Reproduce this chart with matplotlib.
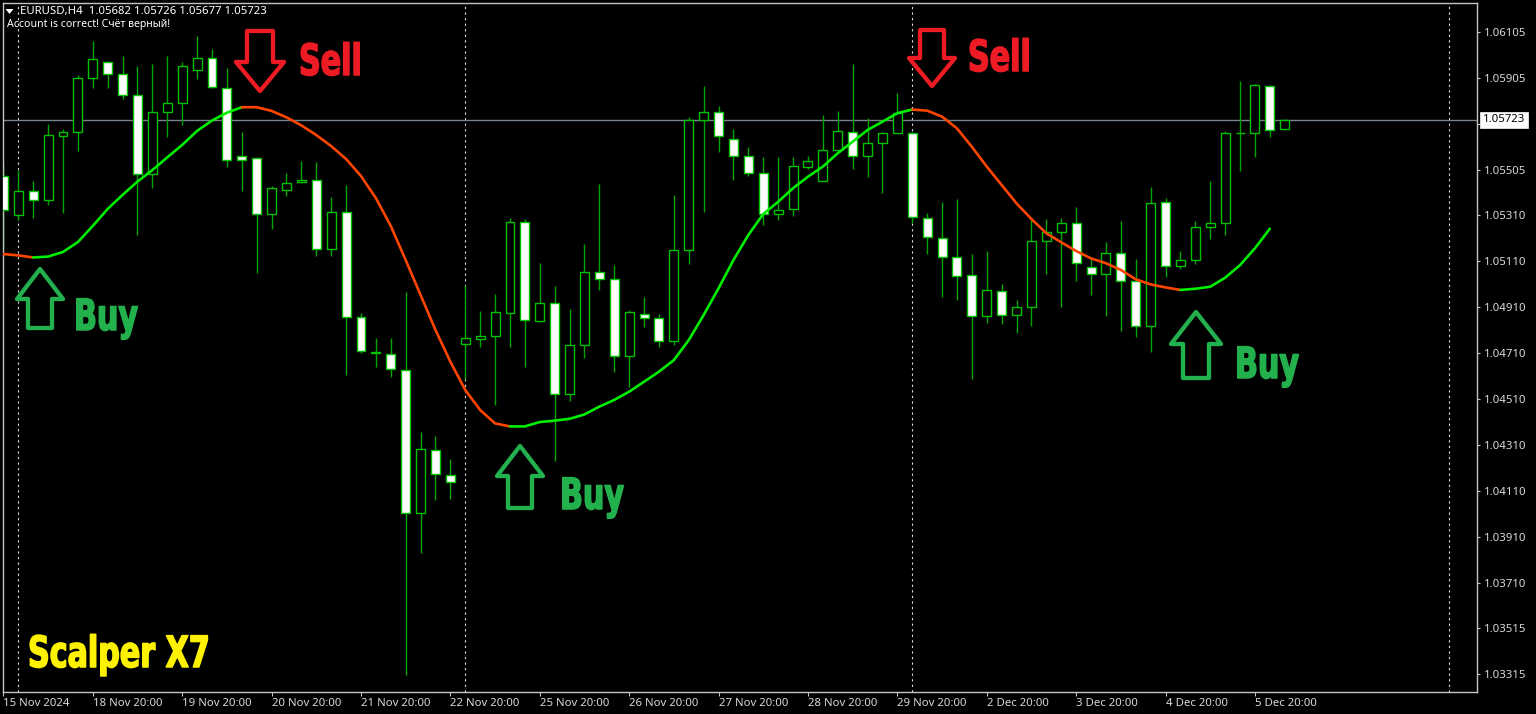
"""
EURUSD H4 chart with the Scalper X7 trend line, MT4 look
"""

import numpy as np
import matplotlib
matplotlib.use('Agg')
import matplotlib.pyplot as plt
import matplotlib.patheffects as pe
from matplotlib.patches import Polygon
from matplotlib.transforms import Affine2D

# Prices in points (1 point = 0.00001)
opens = [105479, 105311, 105416, 105373, 105655, 105672, 105903, 105975, 105922, 105831,
         105488, 105759, 105798, 105940, 105992, 105862, 105564, 105557, 105314, 105420,
         105451, 105462, 105162, 105323, 104865, 104716, 104707, 104637, 104015, 104288,
         104180, 104748, 104771, 104784, 104885, 105278, 104850, 104926, 104533, 104743,
         105063, 105031, 104698, 104881, 104861, 104763, 105156, 105721, 105756, 105641,
         105565, 105492, 105314, 105334, 105520, 105459, 105591, 105670, 105565, 105623,
         105667, 105667, 105298, 105208, 105128, 105050, 104869, 104978, 104874, 104910,
         105197, 105234, 105276, 105084, 105055, 105144, 105021, 104829, 105367, 105087,
         105115, 105257, 105274, 105665, 105667, 105870, 105682]
highs = [105540, 105505, 105457, 105705, 105683, 105920, 106066, 105979, 106001, 105957,
         105966, 106001, 105975, 106088, 106031, 105948, 105670, 105562, 105436, 105492,
         105544, 105540, 105388, 105440, 104885, 104774, 104776, 104976, 104368, 104349,
         104251, 105005, 104891, 104965, 105298, 105292, 105100, 105001, 104900, 105184,
         105443, 105092, 104897, 104955, 104879, 105397, 105734, 105870, 105782, 105682,
         105604, 105560, 105560, 105563, 105566, 105743, 105762, 105966, 105730, 105672,
         105840, 105672, 105317, 105365, 105378, 105140, 105153, 105008, 104940, 105302,
         105291, 105295, 105343, 105128, 105194, 105284, 105117, 105433, 105385, 105153,
         105284, 105457, 105675, 105892, 105879, 105873, 105726]
lows = [105157, 105288, 105297, 105353, 105318, 105588, 105862, 105862, 105814, 105223,
        105427, 105649, 105701, 105901, 105862, 105518, 105414, 105058, 105249, 105392,
        105449, 105131, 105131, 104614, 104710, 104650, 104607, 103310, 103841, 104071,
        104075, 104596, 104737, 104484, 104735, 104650, 104846, 104239, 104503, 104689,
        104984, 104629, 104563, 104824, 104735, 104745, 105095, 105321, 105585, 105462,
        105480, 105267, 105288, 105305, 105510, 105459, 105591, 105511, 105475, 105407,
        105667, 105275, 105139, 104952, 104940, 104597, 104839, 104835, 104798, 104827,
        105053, 104911, 105021, 104963, 104872, 104805, 104781, 104714, 105041, 105074,
        105097, 105204, 105224, 105500, 105560, 105650, 105677]
closes = [105331, 105416, 105375, 105657, 105672, 105903, 105988, 105922, 105831, 105488,
          105759, 105798, 105957, 105992, 105866, 105549, 105549, 105314, 105429, 105449,
          105462, 105162, 105323, 104868, 104719, 104712, 104639, 104015, 104291, 104184,
          104149, 104774, 104785, 104889, 105278, 104852, 104926, 104533, 104743, 105063,
          105031, 104696, 104889, 104861, 104763, 105156, 105721, 105756, 105652, 105566,
          105492, 105315, 105330, 105521, 105546, 105591, 105676, 105565, 105623, 105667,
          105754, 105299, 105214, 105128, 105046, 104869, 104982, 104874, 104910, 105198,
          105234, 105276, 105100, 105055, 105143, 105023, 104829, 105363, 105088, 105115,
          105257, 105276, 105665, 105667, 105873, 105679, 105723]

# Indicator line, one value per bar (stops one bar before the last candle)
trend = [105140, 105134, 105125, 105129, 105149, 105192, 105262, 105336, 105397, 105455,
         105505, 105560, 105614, 105675, 105720, 105754, 105778, 105778, 105762, 105734,
         105699, 105657, 105609, 105553, 105479, 105383, 105262, 105114, 104962, 104810,
         104672, 104549, 104462, 104404, 104391, 104391, 104410, 104416, 104424, 104443,
         104477, 104506, 104542, 104585, 104629, 104679, 104766, 104875, 104991, 105114,
         105223, 105314, 105367, 105426, 105476, 105520, 105578, 105628, 105679, 105715,
         105752, 105768, 105763, 105737, 105686, 105606, 105520, 105440, 105360, 105292,
         105230, 105191, 105153, 105121, 105100, 105071, 105030, 105008, 104995, 104984,
         104989, 104998, 105037, 105092, 105165, 105250]
# (first bar, last bar, colour name) of each trend stretch
trend_parts = [(0, 2, 'down'), (2, 16, 'up'), (16, 34, 'down'), (34, 61, 'up'),
               (61, 79, 'down'), (79, 85, 'up')]

price_ticks = [1.06105, 1.05905, 1.05705, 1.05505, 1.05310, 1.05110, 1.04910, 1.04710,
               1.04510, 1.04310, 1.04110, 1.03910, 1.03710, 1.03515, 1.03315]
time_tick_bars = [0, 6, 12, 18, 24, 30, 36, 42, 48, 54, 60, 66, 72, 78, 84]
time_labels = ['15 Nov 2024', '18 Nov 20:00', '19 Nov 20:00', '20 Nov 20:00', '21 Nov 20:00',
               '22 Nov 20:00', '25 Nov 20:00', '26 Nov 20:00', '27 Nov 20:00', '28 Nov 20:00',
               '29 Nov 20:00', '2 Dec 20:00', '3 Dec 20:00', '4 Dec 20:00', '5 Dec 20:00']
period_sep_bars = [1, 31, 61, 97]
last_price = 1.05723

TICK_FONT = 'Noto Sans'
TEXT_GREY = '#d8d8d8'
SPINE_GREY = '#c4c4c4'
WICK = '#00a400'
BODY_EDGE = '#00c000'
LINE_COLORS = {'up': '#00ee00', 'down': '#ff4500'}
RED = '#ed1c24'
GREEN = '#22b14c'
YELLOW = '#fff200'


class Squeeze(pe.AbstractPathEffect):
    # no condensed heavy font here, so narrow the glyphs of a bold one and fatten them a bit
    def __init__(self, sx, fatten):
        super().__init__()
        self.sx = sx
        self.fatten = fatten

    def draw_path(self, renderer, gc, tpath, affine, rgbFace=None):
        gc0 = renderer.new_gc()
        gc0.copy_properties(gc)
        gc0.set_linewidth(self.fatten)
        gc0.set_foreground(rgbFace)
        renderer.draw_path(gc0, tpath, Affine2D().scale(self.sx, 1) + affine, rgbFace)
        gc0.restore()


def draw_arrow(ov, tip_x, tip_y, half_head, half_shaft, head_len, total_len, color):
    # hollow block arrow, total_len < 0 points down
    sign = 1 if total_len > 0 else -1
    sh_y = tip_y + sign * head_len
    end_y = tip_y + total_len
    pts = [(tip_x, tip_y), (tip_x + half_head, sh_y), (tip_x + half_shaft, sh_y),
           (tip_x + half_shaft, end_y), (tip_x - half_shaft, end_y),
           (tip_x - half_shaft, sh_y), (tip_x - half_head, sh_y)]
    ov.add_patch(Polygon(pts, closed=True, fill=False, edgecolor=color, linewidth=3.1,
                         joinstyle='round'))


def big_text(ov, x, y, label, color):
    ov.text(x, y, label, color=color, family='DejaVu Sans', weight='bold', fontsize=31,
            ha='left', va='baseline', path_effects=[Squeeze(0.7, 1.1)])


def main():
    o = np.array(opens) / 1e5
    h = np.array(highs) / 1e5
    l = np.array(lows) / 1e5
    c = np.array(closes) / 1e5
    line = np.array(trend) / 1e5
    bars = np.arange(len(o))

    fig = plt.figure(figsize=(15.36, 7.14), dpi=100, facecolor='black')
    ax = fig.add_axes([2.5 / 1536, 1 - 691.5 / 714, 1474 / 1536, 689 / 714], facecolor='black')
    ax.set_xlim(-0.06, 98.87)
    ax.set_ylim(1.03239, 1.06233)

    # Chart furniture
    for bar in period_sep_bars:
        ax.axvline(bar, color='#e0e0e0', lw=0.8, ls=(0, (2, 3)), zorder=1)
    ax.axhline(last_price, color='#76828e', lw=1.0, zorder=1)

    # Candles
    ax.vlines(bars, l, h, color=WICK, lw=1.0, zorder=2)
    bottoms = np.minimum(o, c)
    heights = np.abs(c - o)
    faces = ['white' if cl < op else 'black' for op, cl in zip(o, c)]
    ax.bar(bars, heights, bottom=bottoms, width=0.6, color=faces, edgecolor=BODY_EDGE,
           linewidth=1.0, zorder=3)

    # Trend line
    for first, last, kind in trend_parts:
        xs = bars[first:last + 1]
        ax.plot(xs, line[first:last + 1], color=LINE_COLORS[kind], lw=1.9, zorder=4,
                solid_capstyle='round', solid_joinstyle='round')

    # Axes, MT4 keeps price on the right
    for side in ax.spines.values():
        side.set_color(SPINE_GREY)
        side.set_linewidth(1.0)
    ax.yaxis.tick_right()
    ax.set_yticks(price_ticks)
    ax.set_yticklabels(['%.5f' % p for p in price_ticks], family=TICK_FONT, fontsize=8.2,
                       color=TEXT_GREY)
    ax.set_xticks(time_tick_bars)
    ax.set_xticklabels(time_labels, family=TICK_FONT, fontsize=8.2, color=TEXT_GREY, ha='left')
    ax.tick_params(axis='y', length=2.5, width=0.8, color=SPINE_GREY, pad=3)
    ax.tick_params(axis='x', length=3, width=0.8, color=SPINE_GREY, pad=2)

    # Last price tag sits over the price scale
    ax.text(1.0042, last_price, '%.5f' % last_price, transform=ax.get_yaxis_transform(),
            family=TICK_FONT, fontsize=8.2, color='black', ha='left', va='center', zorder=10,
            clip_on=False,
            bbox=dict(boxstyle='square,pad=0.25', facecolor='white', edgecolor='white', lw=0.5))

    # Overlay in picture pixels for the hand placed marks
    ov = fig.add_axes([0, 0, 1, 1], facecolor='none')
    ov.set_xlim(0, 1536)
    ov.set_ylim(714, 0)
    ov.axis('off')

    ov.add_patch(Polygon([(5.5, 9), (13.5, 9), (9.5, 14)], closed=True, facecolor='white',
                         edgecolor='none'))
    ov.text(20, 11.5, 'EURUSD,H4  1.05682 1.05726 1.05677 1.05723', color='white',
            family=TICK_FONT, fontsize=8.2, ha='left', va='center')
    ov.text(7, 24, 'Account is correct! Счёт верный!', color='white',
            family=TICK_FONT, fontsize=7.6, ha='left', va='center')

    draw_arrow(ov, 260, 91, 24, 13, 29, -60, RED)
    draw_arrow(ov, 932, 86, 23, 12, 28, -56, RED)
    draw_arrow(ov, 40, 269, 23, 12, 30, 59, GREEN)
    draw_arrow(ov, 520, 446, 23, 12, 30, 62, GREEN)
    draw_arrow(ov, 1196, 312, 25, 13, 32, 66, GREEN)

    big_text(ov, 299, 75, 'Sell', RED)
    big_text(ov, 968, 71, 'Sell', RED)
    big_text(ov, 74, 330, 'Buy', GREEN)
    big_text(ov, 560, 509, 'Buy', GREEN)
    big_text(ov, 1235, 378, 'Buy', GREEN)
    big_text(ov, 28, 667, 'Scalper X7', YELLOW)

    fig.savefig('out.png', dpi=100, facecolor='black')
    print('Saved figure: out.png')


if __name__ == '__main__':
    main()
